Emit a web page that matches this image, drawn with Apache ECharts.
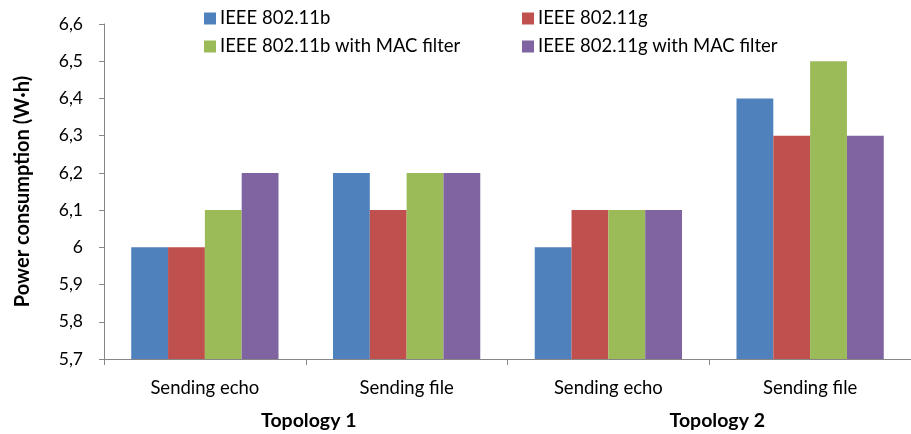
<!DOCTYPE html>
<html><head><meta charset="utf-8">
<script src="https://cdn.jsdelivr.net/npm/echarts@6/dist/echarts.min.js"></script>
<style>html,body{margin:0;padding:0;background:#fff}#c{width:911px;height:434px}</style>
</head><body><div id="c"></div>
<script>
var categories = ['Sending echo', 'Sending file', 'Sending echo', 'Sending file'];
var groups = ['Topology 1', 'Topology 2'];
var seriesNames = ['IEEE 802.11b', 'IEEE 802.11g', 'IEEE 802.11b with MAC filter', 'IEEE 802.11g with MAC filter'];
var b80211 = [6.0, 6.2, 6.0, 6.4];
var g80211 = [6.0, 6.1, 6.1, 6.3];
var bMac = [6.1, 6.2, 6.1, 6.5];
var gMac = [6.2, 6.2, 6.1, 6.3];
var colors = ['#4F81BD', '#C0504D', '#9BBB59', '#8064A2'];

var FONT = 'Lato';
var chart = echarts.init(document.getElementById('c'));
var values = [b80211, g80211, bMac, gMac];
var legendPos = [[204, 9], [522, 9], [204, 37], [522, 37]];
var series = seriesNames.map(function (n, i) {
  return {
    name: n, type: 'bar', data: values[i], xAxisIndex: 0,
    barGap: '0%', barCategoryGap: '27%',
    itemStyle: { color: colors[i] }
  };
});
chart.setOption({
  animation: false,
  legend: seriesNames.map(function (n, i) {
    return {
      data: [n], left: legendPos[i][0], top: legendPos[i][1],
      itemWidth: 12, itemHeight: 12, itemGap: 0, icon: 'rect',
      textStyle: { fontFamily: FONT, fontSize: 18.5, color: '#000', padding: [0, 0, 0, -1] },
      padding: 0
    };
  }),
  grid: { left: 104, top: 24, width: 817, height: 335, containLabel: false },
  xAxis: [{
    type: 'category', data: categories, position: 'bottom',
    axisLine: { lineStyle: { color: '#868686', width: 1 } },
    axisTick: { show: true, length: 6, lineStyle: { color: '#868686' } },
    axisLabel: { fontFamily: FONT, fontSize: 18.5, color: '#000', margin: 20 }
  }, {
    type: 'category', data: groups, position: 'bottom', offset: 0,
    axisLine: { show: false }, axisTick: { show: false },
    axisLabel: {
      fontFamily: FONT, fontSize: 19.5, fontWeight: 'bold', color: '#000', margin: 52,
      formatter: function (v, i) { return '{t' + i + '|' + v + '}'; },
      rich: {
        t0: { fontFamily: FONT, fontSize: 19.5, fontWeight: 'bold', color: '#000', padding: [0, 0, 0, 6] },
        t1: { fontFamily: FONT, fontSize: 19.5, fontWeight: 'bold', color: '#000', padding: [0, 0, 0, 16] }
      }
    }
  }],
  yAxis: {
    type: 'value', min: 5.7, max: 6.6, interval: 0.1,
    name: 'Power consumption (W·h)', nameLocation: 'middle', nameGap: 71,
    nameTextStyle: { fontFamily: FONT, fontSize: 20, fontWeight: 'bold', color: '#000' },
    axisLine: { show: true, lineStyle: { color: '#868686' } },
    axisTick: { show: true, length: 5, lineStyle: { color: '#868686' } },
    splitLine: { show: false },
    axisLabel: {
      fontFamily: FONT, fontSize: 17.5, color: '#000', margin: 21,
      formatter: function (v) {
        var s = (Math.round(v * 10) / 10).toFixed(1);
        if (s.slice(-2) === '.0') s = s.slice(0, -2);
        return s.replace('.', ',');
      }
    }
  },
  series: series
});
</script></body></html>
